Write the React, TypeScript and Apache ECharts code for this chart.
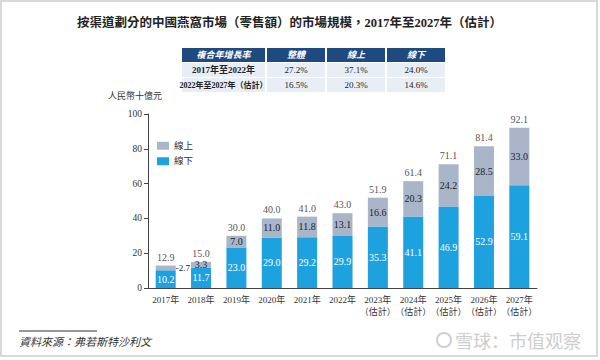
import React, { useEffect, useRef } from "react";
import * as echarts from "echarts";

const years = ["2017年", "2018年", "2019年", "2020年", "2021年", "2022年", "2023年\n（估計）", "2024年\n（估計）", "2025年\n（估計）", "2026年\n（估計）", "2027年\n（估計）"];
const offline = [10.2, 11.7, 23.0, 29.0, 29.2, 29.9, 35.3, 41.1, 46.9, 52.9, 59.1];
const online = [2.7, 3.3, 7.0, 11.0, 11.8, 13.1, 16.6, 20.3, 24.2, 28.5, 33.0];
const totals = [12.9, 15.0, 30.0, 40.0, 41.0, 43.0, 51.9, 61.4, 71.1, 81.4, 92.1];
const yTicks = [0, 20, 40, 60, 80, 100];

const tableHeader = ["複合年增長率", "整體", "線上", "線下"];
const tableRow1 = ["2017年至2022年", "27.2%", "37.1%", "24.0%"];
const tableRow2 = ["2022年至2027年（估計）", "16.5%", "20.3%", "14.6%"];

const BLUE = "#1ea1df";
const GRAY = "#a9b6c9";
const NAVY = "#1f4a80";
const CELL = "#e7eef6";
const SERIF = '"Liberation Serif", "Noto Sans CJK TC", serif';

export default function App() {
  const ref = useRef<HTMLDivElement>(null);
  useEffect(() => {
    const chart = echarts.init(ref.current!, null, { renderer: "svg" });

    const colX = [182, 267, 327, 387];
    const colW = [83, 58, 58, 58];
    const rowY = [48, 63, 78];
    const rowH = 14;
    const tableGraphics: any[] = [];
    [tableHeader, tableRow1, tableRow2].forEach((row, r) => {
      row.forEach((txt, c) => {
        tableGraphics.push({
          type: "rect",
          shape: { x: colX[c], y: rowY[r], width: colW[c], height: rowH },
          style: { fill: r === 0 ? NAVY : CELL },
        });
        tableGraphics.push({
          type: "text",
          x: colX[c] + colW[c] / 2,
          y: rowY[r] + rowH / 2,
          style: {
            text: txt,
            fill: r === 0 ? "#ffffff" : "#222",
            font: `${r === 0 ? "italic bold " : c === 0 ? "bold " : ""}${c === 0 && r === 2 ? 8 : 9}px ${SERIF}`,
            align: "center",
            verticalAlign: "middle",
          },
        });
      });
    });

    const numFmt = (p: any) => Number(Array.isArray(p.value) ? p.value[1] : p.value).toFixed(1);

    const option: any = {
      animation: false,
      backgroundColor: "#ffffff",
      textStyle: { fontFamily: SERIF },
      grid: { left: 148, right: 63, top: 114, bottom: 72 },
      legend: {
        data: ["線上", "線下"],
        orient: "vertical",
        left: 152,
        top: 136,
        itemWidth: 12,
        itemHeight: 8,
        itemGap: 6,
        icon: "rect",
        textStyle: { fontSize: 9.5, color: "#333", fontFamily: SERIF },
      },
      xAxis: {
        type: "category",
        data: years,
        axisLine: { lineStyle: { color: "#444", width: 1 } },
        axisTick: { show: false },
        axisLabel: { interval: 0, fontSize: 9, color: "#333", margin: 6, lineHeight: 12, fontFamily: SERIF },
      },
      yAxis: {
        type: "value",
        min: yTicks[0],
        max: yTicks[yTicks.length - 1],
        interval: 20,
        splitLine: { show: false },
        axisLine: { show: true, lineStyle: { color: "#444" } },
        axisTick: { show: true, length: 4, lineStyle: { color: "#444" } },
        axisLabel: { fontSize: 9.5, color: "#333", margin: 6, fontFamily: SERIF },
      },
      series: [
        {
          name: "線下",
          type: "bar",
          stack: "total",
          barWidth: 20,
          itemStyle: { color: BLUE },
          label: { show: true, position: "inside", color: "#ffffff", fontSize: 10, fontFamily: SERIF, formatter: numFmt },
          data: offline,
        },
        {
          name: "線上",
          type: "bar",
          stack: "total",
          barWidth: 20,
          itemStyle: { color: GRAY },
          label: { show: true, position: "inside", color: "#222", fontSize: 10, fontFamily: SERIF, formatter: numFmt },
          data: online.map((v, i) =>
            i === 0
              ? { value: v, label: { position: "right", distance: 0, fontSize: 9, formatter: (p: any) => "-" + Number(p.value).toFixed(1) } }
              : v
          ),
        },
        {
          name: "總計",
          type: "scatter",
          data: totals,
          symbolSize: 1,
          itemStyle: { color: "rgba(0,0,0,0)" },
          silent: true,
          label: { show: true, position: "top", distance: 3, color: "#222", fontSize: 10, fontFamily: SERIF, formatter: numFmt },
        },
      ],
      graphic: [
        {
          type: "rect",
          shape: { x: 1, y: 1, width: 596, height: 355 },
          style: { fill: "none", stroke: "#d9d9d9", lineWidth: 2 },
          silent: true,
        },
        {
          type: "text",
          x: 289.5,
          y: 23,
          style: {
            text: "按渠道劃分的中國燕窩市場（零售額）的市場規模，2017年至2027年（估計）",
            font: `bold 12.5px ${SERIF}`,
            fill: "#222",
            align: "center",
            verticalAlign: "middle",
          },
        },
        ...tableGraphics,
        {
          type: "text",
          x: 135,
          y: 96,
          style: { text: "人民幣十億元", font: `9px ${SERIF}`, fill: "#333", align: "center", verticalAlign: "middle" },
        },
        {
          type: "line",
          shape: { x1: 19, y1: 331, x2: 97, y2: 331 },
          style: { stroke: "#333", lineWidth: 1 },
        },
        {
          type: "text",
          x: 19,
          y: 342,
          style: { text: "資料來源：弗若斯特沙利文", font: `italic 11px ${SERIF}`, fill: "#333", align: "left", verticalAlign: "middle" },
        },
        {
          type: "circle",
          shape: { cx: 444, cy: 340, r: 7 },
          style: { fill: "none", stroke: "#cfcfcf", lineWidth: 2 },
        },
        {
          type: "text",
          x: 455,
          y: 340,
          style: { text: "雪球：市值观察", font: `18px "Noto Sans CJK SC", sans-serif`, fill: "#cdcdcd", align: "left", verticalAlign: "middle" },
        },
      ],
    };
    chart.setOption(option);
    return () => chart.dispose();
  }, []);
  return <div ref={ref} style={{ position: "fixed", left: 0, top: 0, width: 600, height: 360 }} />;
}
